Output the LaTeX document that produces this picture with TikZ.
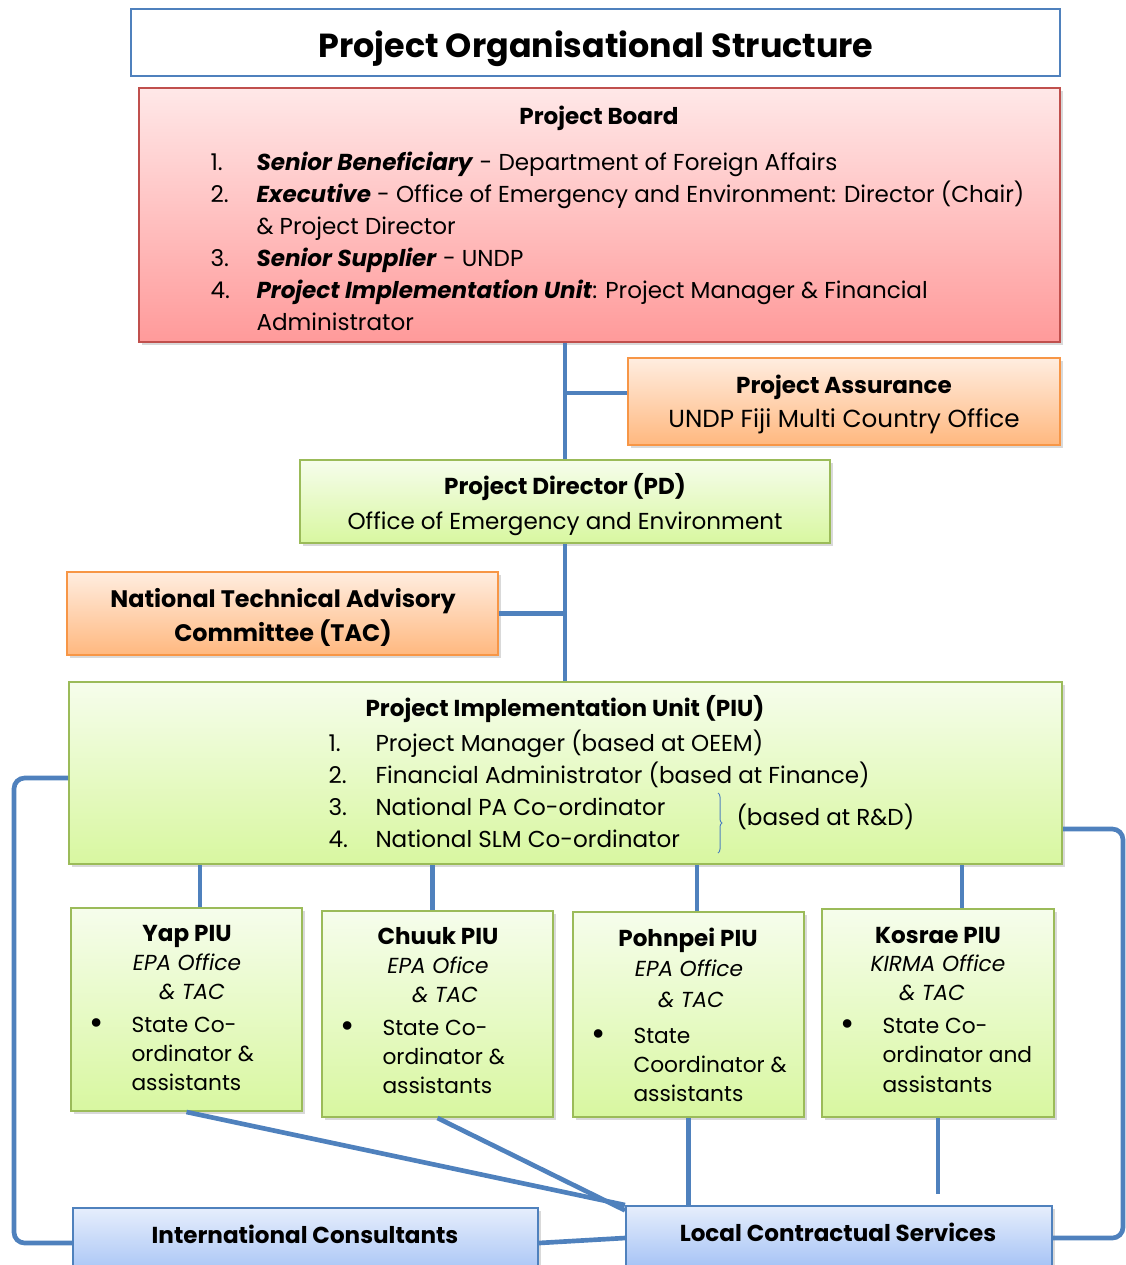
\documentclass[tikz,border=0pt]{standalone}
\usepackage{fontspec}
\setmainfont{Poppins}
\usetikzlibrary{positioning,fit,calc,shadows,decorations.pathreplacing}

\definecolor{linkblue}{HTML}{4F81BD}
\definecolor{redline}{HTML}{C0504D}
\definecolor{redtop}{HTML}{FFE8E8}
\definecolor{redbot}{HTML}{FF9A9A}
\definecolor{orline}{HTML}{F79646}
\definecolor{ortop}{HTML}{FFEDE0}
\definecolor{orbot}{HTML}{FFB87F}
\definecolor{grline}{HTML}{9BBB59}
\definecolor{grtop}{HTML}{F6FDEC}
\definecolor{grbot}{HTML}{D8F7A0}
\definecolor{bltop}{HTML}{E6EEFC}
\definecolor{blbot}{HTML}{A3C1F5}

\newcommand{\bodysize}{\fontsize{17.3}{20}\selectfont}
\newcommand{\smallsize}{\fontsize{16.3}{19}\selectfont}
\newcommand{\titlesize}{\fontsize{25}{30}\selectfont}
\newcommand{\bigdot}{{\fontsize{26}{26}\selectfont\textbullet}}

\tikzset{every picture/.style={line width=0.75pt},
	box/.style={rectangle, inner sep=0pt, line width=1.5pt,
		drop shadow={shadow xshift=2.5pt, shadow yshift=-2.5pt, opacity=0.3}},
	titlebox/.style={rectangle, inner sep=0pt, line width=1.5pt, draw=linkblue, fill=white},
	redbox/.style={box, draw=redline, top color=redtop, bottom color=redbot},
	orbox/.style={box, draw=orline, top color=ortop, bottom color=orbot},
	grbox/.style={box, draw=grline, top color=grtop, bottom color=grbot},
	blbox/.style={box, draw=linkblue, top color=bltop, bottom color=blbot},
	conn/.style={draw=linkblue, line width=3.5pt},
	txt/.style={inner sep=0.75pt, font=\bodysize},
	head/.style={inner sep=0.75pt, font=\bodysize\bfseries, anchor=base},
	item/.style={txt, anchor=base west},
	mid/.style={txt, anchor=base},
	small/.style={txt, font=\smallsize, anchor=base west},
	smallmid/.style={txt, font=\smallsize, anchor=base},
}

\begin{document}
\begin{tikzpicture}[x=0.75pt,y=0.75pt,yscale=-1,xscale=1]
	\useasboundingbox (0,0) rectangle (1126,1265);
	\clip (0,0) rectangle (1126,1265);
	
	%Boxes
	\node[titlebox, fit={(131,9) (1060,76)}] (ttl) {};
	\node[redbox, fit={(139,88) (1060,342)}] (pb) {};
	\node[orbox, fit={(628,358) (1060,445)}] (pa) {};
	\node[grbox, fit={(300,460) (830,543)}] (pd) {};
	\node[orbox, fit={(67,572) (498,655)}] (tac) {};
	\node[grbox, fit={(69,682) (1062,864)}] (piu) {};
	\node[grbox, fit={(71,908) (302,1111)}] (yap) {};
	\node[grbox, fit={(322,911) (553,1117)}] (chuuk) {};
	\node[grbox, fit={(573,912) (804,1117)}] (pohnpei) {};
	\node[grbox, fit={(822,909) (1054,1117)}] (kosrae) {};
	\node[blbox, fit={(73,1208) (538,1278)}] (ic) {};
	\node[blbox, fit={(626,1206) (1052,1270)}] (lcs) {};
	
	%Straight Lines
	\draw[conn] (pd.north) -- (pd.north |- pb.south) ;
	\draw[conn] (pd.south) -- (pd.south |- piu.north) ;
	\draw[conn] ([yshift=-6.4pt]pa.west) -- ([yshift=-6.4pt]pa.west -| pd.north) ;
	\draw[conn] (tac.east) -- (tac.east -| pd.south) ;
	\draw[conn] ([xshift=10pt]yap.north) -- ([xshift=10pt]yap.north |- piu.south) ;
	\draw[conn] ([xshift=-4pt]chuuk.north) -- ([xshift=-4pt]chuuk.north |- piu.south) ;
	\draw[conn] ([xshift=6.4pt]pohnpei.north) -- ([xshift=6.4pt]pohnpei.north |- piu.south) ;
	\draw[conn] ([xshift=18pt]kosrae.north) -- ([xshift=18pt]kosrae.north |- piu.south) ;
	\draw[conn] (yap.south) -- (lcs.north west) ;
	\draw[conn] (chuuk.south) -- ([yshift=4pt]lcs.north west) ;
	\draw[conn] (pohnpei.south) -- (pohnpei.south |- lcs.north) ;
	\draw[conn, shorten >=8pt] (kosrae.south) -- (kosrae.south |- lcs.north) ;
	\draw[conn] (ic.east) -- (lcs.west) ;
	\draw[conn, rounded corners=8pt] ([yshift=3.75pt]piu.west) -- ++(-54,0) |- (ic.west) ;
	\draw[conn, rounded corners=8pt] ([yshift=42pt]piu.east) -- ++(60,0) |- (lcs.east) ;
	
	% Title
	\node[mid, font=\titlesize\bfseries] (ttltext) at (596,57) {Project Organisational Structure};
	
	% Project Board
	\node[head] (pbhead) at (599,124) {Project Board};
	\node[item] (pb1n) at (209,170) {1.};
	\node[item] (pb1) at (255,170) {\textbf{\textit{Senior Beneficiary}} - Department of Foreign Affairs};
	\node[item] (pb2n) at (209,202) {2.};
	\node[item] (pb2) at (255,202) {\textbf{\textit{Executive}} - Office of Emergency and Environment: Director (Chair)};
	\node[item] (pb2b) at (255,234) {\& Project Director};
	\node[item] (pb3n) at (209,266) {3.};
	\node[item] (pb3) at (255,266) {\textbf{\textit{Senior Supplier}} - UNDP};
	\node[item] (pb4n) at (209,298) {4.};
	\node[item] (pb4) at (255,298) {\textbf{\textit{Project Implementation Unit}}: Project Manager \& Financial};
	\node[item] (pb4b) at (255,330) {Administrator};
	
	% Project Assurance
	\node[head] (pahead) at (844,393) {Project Assurance};
	\node[mid, font=\fontsize{18.5}{22}\selectfont] (patext) at (844,427) {UNDP Fiji Multi Country Office};
	
	% Project Director
	\node[head] (pdhead) at (565,494) {Project Director (PD)};
	\node[mid] (pdtext) at (565,529) {Office of Emergency and Environment};
	
	% TAC
	\node[head, font=\fontsize{17.9}{21}\selectfont\bfseries] (tachead) at (283,607) {National Technical Advisory};
	\node[head, font=\fontsize{17.9}{21}\selectfont\bfseries] (tachead2) at (283,641) {Committee (TAC)};
	
	% PIU
	\node[head] (piuhead) at (565,716) {Project Implementation Unit (PIU)};
	\node[item] (piu1n) at (327,751) {1.};
	\node[item] (piu1) at (374,751) {Project Manager (based at OEEM)};
	\node[item] (piu2n) at (327,783) {2.};
	\node[item] (piu2) at (374,783) {Financial Administrator (based at Finance)};
	\node[item] (piu3n) at (327,815) {3.};
	\node[item] (piu3) at (374,815) {National PA Co-ordinator};
	\node[item] (piu4n) at (327,847) {4.};
	\node[item] (piu4) at (374,847) {National SLM Co-ordinator};
	\coordinate (bracetop) at (718,793);
	\coordinate (bracebot) at (718,853);
	\draw[linkblue, line width=0.75pt, decorate, decoration={brace, amplitude=3pt}] (bracetop) -- (bracebot);
	\node[item] (rdnote) at (735,825) {(based at R\&D)};
	
	% Yap
	\node[head] (yaphead) at (187,941) {Yap PIU};
	\node[smallmid] (yap1) at (187,970) {\textit{EPA Office}};
	\node[smallmid] (yap2) at (192,999) {\textit{\& TAC}};
	\node[smallmid] (yapdot) at (97,1034) {\bigdot};
	\node[small] (yap3) at (130,1032) {State Co-};
	\node[small] (yap4) at (130,1061) {ordinator \&};
	\node[small] (yap5) at (130,1090) {assistants};
	
	% Chuuk
	\node[head] (chuukhead) at (438,944) {Chuuk PIU};
	\node[smallmid] (chuuk1) at (438,973) {\textit{EPA Ofice}};
	\node[smallmid] (chuuk2) at (445,1002) {\textit{\& TAC}};
	\node[smallmid] (chuukdot) at (348,1037) {\bigdot};
	\node[small] (chuuk3) at (381,1035) {State Co-};
	\node[small] (chuuk4) at (381,1064) {ordinator \&};
	\node[small] (chuuk5) at (381,1093) {assistants};
	
	% Pohnpei
	\node[head] (pohnpeihead) at (688,946) {Pohnpei PIU};
	\node[smallmid] (pohnpei1) at (689,976) {\textit{EPA Office}};
	\node[smallmid] (pohnpei2) at (691,1007) {\textit{\& TAC}};
	\node[smallmid] (pohnpeidot) at (599,1045) {\bigdot};
	\node[small] (pohnpei3) at (632,1043) {State};
	\node[small] (pohnpei4) at (632,1072) {Coordinator \&};
	\node[small] (pohnpei5) at (632,1101) {assistants};
	
	% Kosrae
	\node[head] (kosraehead) at (938,943) {Kosrae PIU};
	\node[smallmid] (kosrae1) at (938,971) {\textit{KIRMA Office}};
	\node[smallmid] (kosrae2) at (932,1000) {\textit{\& TAC}};
	\node[smallmid] (kosraedot) at (848,1035) {\bigdot};
	\node[small] (kosrae3) at (881,1033) {State Co-};
	\node[small] (kosrae4) at (881,1062) {ordinator and};
	\node[small] (kosrae5) at (881,1092) {assistants};
	
	% Bottom
	\node[head] (ichead) at (305,1243) {International Consultants};
	\node[head] (lcshead) at (838,1241) {Local Contractual Services};
	
\end{tikzpicture}
\end{document}
